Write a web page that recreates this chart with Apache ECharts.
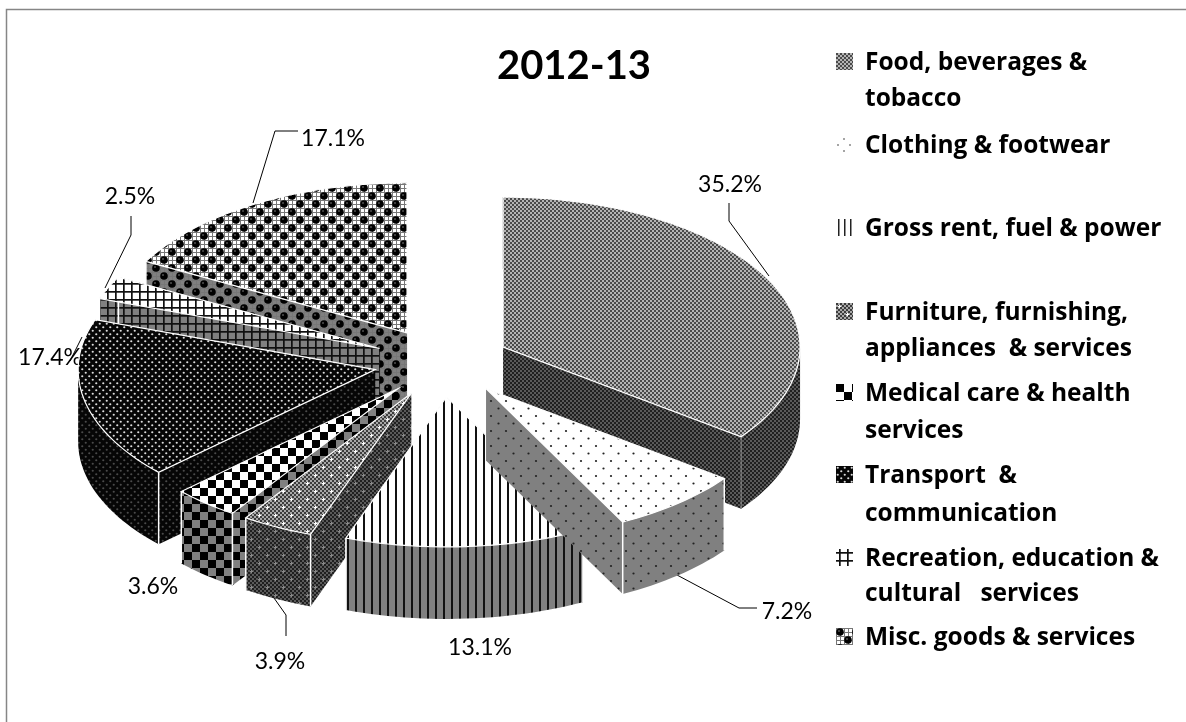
<!DOCTYPE html>
<html><head><meta charset="utf-8">
<style>html,body{margin:0;padding:0;background:#fff}#c{width:1186px;height:722px}</style>
<script src="https://cdn.jsdelivr.net/npm/echarts@6/dist/echarts.min.js"></script>
</head><body><div id="c"></div>
<script>
const categories = ['Food, beverages &\ntobacco','Clothing & footwear','Gross rent, fuel & power','Furniture, furnishing,\nappliances  & services','Medical care & health\nservices','Transport  &\ncommunication','Recreation, education &\ncultural   services','Misc. goods & services'];
const values = [35.2,7.2,13.1,3.9,3.6,17.4,2.5,17.1];
const valueLabels = ['35.2%','7.2%','13.1%','3.9%','3.6%','17.4%','2.5%','17.1%'];
const drawOrder = [0,7,6,5,4,3,2,1];
const titleText = '2012-13';

const PIE = {cx:442, cy:362.5, rx:297, ry:150, depth:72, explode:0.23};
const labelLayout = [
  {c:[730,185], l:[[729,203],[729,221],[769,276]]},
  {c:[787,612], l:[[677,575],[739,608],[757,608]]},
  {c:[480,648], l:[]},
  {c:[280,662], l:[[274,598],[286,615],[286,636]]},
  {c:[153,587], l:[]},
  {c:[50,358],  l:[[70,361],[82,337]]},
  {c:[130,197], l:[[131,216],[131,235],[105,288]]},
  {c:[333,139], l:[[298,131],[275,131],[253,203]]}
];
const legendY = [[63,99],[146],[229],[313,349],[394,431],[476,514],[559,594],[638]];

function tile(w,h,draw){const c=document.createElement('canvas');c.width=w;c.height=h;const x=c.getContext('2d');draw(x,w,h);return {image:c,repeat:'repeat'};}
function fineChecker(x,w,h,a,b,s){x.fillStyle=a;x.fillRect(0,0,w,h);x.fillStyle=b;for(let j=0;j<h;j+=s)for(let i=0;i<w;i+=s)if(((i/s)+(j/s))%2)x.fillRect(i,j,s,s);}
function dot(x,px,py,r,col){x.fillStyle=col;x.beginPath();x.arc(px,py,r,0,7);x.fill();}
const makers = [
 (lt,dk)=>tile(4,4,x=>fineChecker(x,4,4,dk?'#1f1f1f':'#4a4a4a',dk?'#5a5a5a':'#b4b4b4',2)),
 (lt,dk)=>tile(15,15,x=>{x.fillStyle=lt;x.fillRect(0,0,15,15);dot(x,3.5,3.5,1.1,'#222');dot(x,11,11,1.1,'#222');}),
 (lt,dk)=>tile(8,8,x=>{x.fillStyle=lt;x.fillRect(0,0,8,8);x.fillStyle='#111';x.fillRect(3,0,2,8);}),
 (lt,dk)=>tile(16,16,x=>{fineChecker(x,16,16,dk?'#1f1f1f':'#3c3c3c',dk?'#5a5a5a':'#a8a8a8',2);const c=dk?'#8a8a8a':'#fff';x.fillStyle=c;x.fillRect(2,3,3,1);x.fillRect(3,2,1,3);x.fillRect(10,11,3,1);x.fillRect(11,10,1,3);}),
 (lt,dk)=>tile(16,16,x=>{fineChecker(x,16,16,'#000',lt,8);}),
 (lt,dk)=>tile(7,7,x=>{x.fillStyle='#060606';x.fillRect(0,0,7,7);const c=dk?'#4a4a4a':'#dcdcdc';dot(x,1.75,1.75,1.1,c);dot(x,5.25,5.25,1.1,c);}),
 (lt,dk)=>tile(8,8,x=>{x.fillStyle=lt;x.fillRect(0,0,8,8);x.fillStyle='#111';x.fillRect(3,0,1.7,8);x.fillRect(0,3,8,1.7);}),
 (lt,dk)=>tile(16,16,x=>{x.fillStyle=lt;x.fillRect(0,0,16,16);x.fillStyle='#777';for(let i=0;i<16;i+=4){x.fillRect(i,0,1,16);x.fillRect(0,i,16,1);}dot(x,4,4,3.8,'#000');dot(x,12,12,3.8,'#000');dot(x,3,3,.8,'#888');dot(x,11,11,.8,'#888');})
];
const topFill = makers.map(m=>m('#ffffff',false));
const sideFill = makers.map(m=>m('#808080',true));

const starts=[];let acc=0;for(const v of values){starts.push(acc);acc+=v;}
const total=acc;
function pt(cx,cy,a){return [cx+PIE.rx*Math.sin(a),cy-PIE.ry*Math.cos(a)];}
function arcPts(cx,cy,a0,a1,dy){const n=Math.max(2,Math.ceil((a1-a0)/0.03));const r=[];for(let i=0;i<=n;i++){const p=pt(cx,cy,a0+(a1-a0)*i/n);r.push([p[0],p[1]+dy]);}return r;}

function renderItem(params,api){
  const i=api.value(0);const v=api.value(1);
  const a0=starts[i]/total*2*Math.PI,a1=a0+v/total*2*Math.PI,mid=(a0+a1)/2;
  const ax=PIE.cx+PIE.explode*PIE.rx*Math.sin(mid),ay=PIE.cy-PIE.explode*PIE.ry*Math.cos(mid);
  const d=PIE.depth,p0=pt(ax,ay,a0),p1=pt(ax,ay,a1),side=sideFill[i];
  const kids=[];
  const poly=(points,fill,stroke,lw)=>kids.push({type:'polygon',shape:{points},style:{fill,stroke:stroke||null,lineWidth:lw||0}});
  poly([[ax,ay],p0,[p0[0],p0[1]+d],[ax,ay+d]],side);
  poly([[ax,ay],p1,[p1[0],p1[1]+d],[ax,ay+d]],side);
  const wa0=Math.max(a0,Math.PI/2),wa1=Math.min(a1,1.5*Math.PI);
  if(wa1>wa0){poly(arcPts(ax,ay,wa0,wa1,0).concat(arcPts(ax,ay,wa0,wa1,d).reverse()),side);}
  for(const p of [p0,p1])kids.push({type:'line',shape:{x1:p[0],y1:p[1],x2:p[0],y2:p[1]+d},style:{stroke:i===0?'#8a8a8a':'#fff',lineWidth:i===0?1:1.5}});
  poly([[ax,ay]].concat(arcPts(ax,ay,a0,a1,0)),topFill[i],'#fff',1.2);
  return {type:'group',children:kids};
}

const graphics=[];
legendY.forEach((ys,i)=>{
  graphics.push({type:'rect',left:836,top:ys[0]-10,shape:{width:17,height:17},style:{fill:i===1?tile(17,17,x=>{dot(x,8,3,.8,'#333');dot(x,2,9,.8,'#333');dot(x,14,9,.8,'#333');dot(x,8,15,.8,'#333');}):i===2?tile(17,17,x=>{x.fillStyle='#222';x.fillRect(2,0,1.5,17);x.fillRect(8,0,1.5,17);x.fillRect(14,0,1.5,17);}):topFill[i]}});
  categories[i].split('\n').forEach((t,j)=>graphics.push({type:'text',x:865,y:ys[j],style:{text:t,fontFamily:'"Open Sans"',fontWeight:'bold',fontSize:24.5,fill:'#000',verticalAlign:'middle'}}));
});
valueLabels.forEach((t,i)=>{
  const L=labelLayout[i];
  graphics.push({type:'text',x:L.c[0],y:L.c[1],style:{text:t,fontFamily:'Lato',fontSize:23,fill:'#000',align:'center',verticalAlign:'middle'}});
  if(L.l.length)graphics.push({type:'polyline',shape:{points:L.l},style:{stroke:'#000',lineWidth:1,fill:null}});
});

const chart=echarts.init(document.getElementById('c'),null,{renderer:'canvas'});
chart.setOption({
  animation:false,
  backgroundColor:'#fff',
  title:{text:titleText,left:569,top:41,textAlign:'center',textStyle:{fontFamily:'Lato',fontWeight:'bold',fontSize:40,color:'#000'}},
  graphic:[{type:'polyline',shape:{points:[[6.5,722],[6.5,9.5],[1186,9.5]]},style:{stroke:'#868686',lineWidth:1.5,fill:null},silent:true},...graphics],
  series:[{type:'custom',coordinateSystem:'none',renderItem,
    encode:{tooltip:[1]},
    data:drawOrder.map(i=>({name:categories[i],value:[i,values[i]]}))}]
});
</script></body></html>
